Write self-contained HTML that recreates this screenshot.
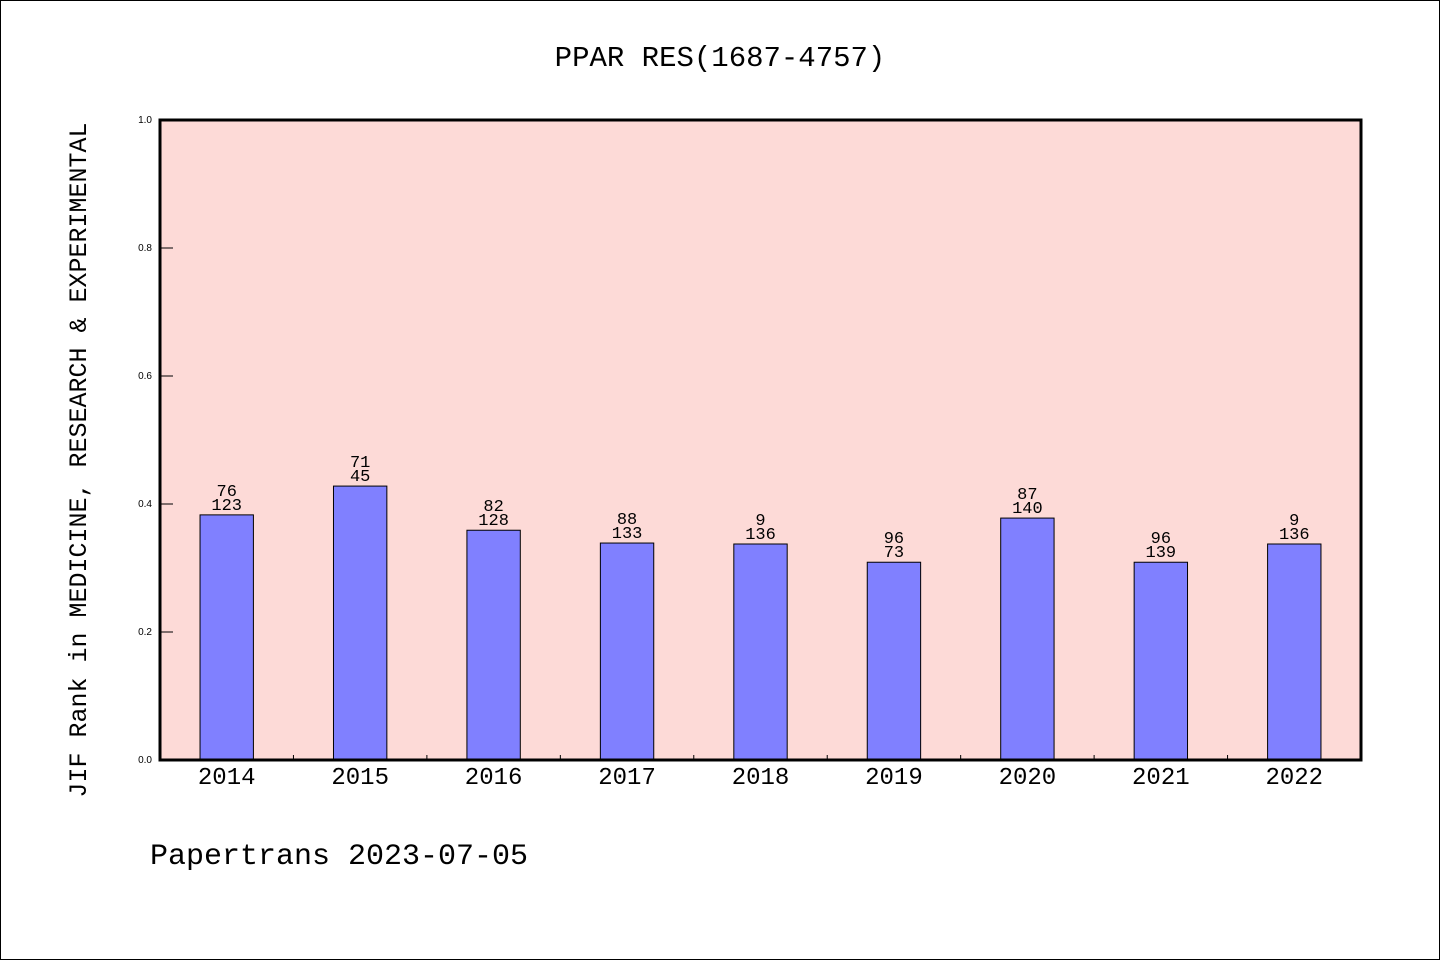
<!DOCTYPE html>
<html><head><meta charset="utf-8"><style>
html,body{margin:0;padding:0;background:#fff;}
svg{display:block;}
text{font-family:"Liberation Mono","DejaVu Sans Mono",monospace;fill:#000;}
text.sans{font-family:"Liberation Sans",sans-serif;}
</style></head><body>
<svg id="chart" width="1440" height="960" viewBox="0 0 1440 960" xmlns="http://www.w3.org/2000/svg">
<rect x="0.5" y="0.5" width="1439" height="959" fill="#fff" stroke="#000" stroke-width="1"/>
<text x="720" y="66" font-size="29" text-anchor="middle">PPAR RES(1687-4757)</text>
<rect x="160" y="120" width="1201" height="640" fill="#fddad7"/>
<g id="bars"></g>
<g id="yaxis"></g>
<g id="xaxis"></g>
<rect x="160" y="120" width="1201" height="640" fill="none" stroke="#000" stroke-width="3"/>
<text transform="translate(86,460) rotate(-90)" font-size="25" text-anchor="middle">JIF Rank in MEDICINE, RESEARCH &amp; EXPERIMENTAL</text>
<text x="150" y="864" font-size="30">Papertrans 2023-07-05</text>
</svg>
<script>
const categories=["2014","2015","2016","2017","2018","2019","2020","2021","2022"];
const values=[0.383,0.428,0.359,0.339,0.3375,0.309,0.378,0.309,0.3375];
const topLabels=["76","71","82","88","9","96","87","96","9"];
const bottomLabels=["123","45","128","133","136","73","140","139","136"];
const yTicks=["0.0","0.2","0.4","0.6","0.8","1.0"];
const NS="http://www.w3.org/2000/svg";
const X0=160,W=1201,Y0=760,H=640;
const band=W/categories.length;
const xC=i=>X0+(i+0.5)*band;
const yS=v=>Y0-v*H;
function mk(tag,attrs,parent){const e=document.createElementNS(NS,tag);for(const k in attrs)e.setAttribute(k,attrs[k]);parent.appendChild(e);return e;}
const bars=document.getElementById('bars'),ya=document.getElementById('yaxis'),xa=document.getElementById('xaxis');
categories.forEach((c,i)=>{
  const bw=band*0.4,y=yS(values[i]);
  const r=mk('rect',{x:xC(i)-bw/2,y:y,width:bw,height:Y0-y,fill:'#8080ff',stroke:'#000','stroke-width':1},bars);
  
  
  const t1=mk('text',{x:xC(i),y:y-19,'font-size':17,'text-anchor':'middle'},bars);t1.textContent=topLabels[i];
  
  
  const t2=mk('text',{x:xC(i),y:y-5,'font-size':17,'text-anchor':'middle'},bars);t2.textContent=bottomLabels[i];
  
  
  const xl=mk('text',{x:xC(i),y:784,'font-size':24,'text-anchor':'middle'},xa);xl.textContent=c;
  
  
  if(i>0){const tk=mk('line',{x1:X0+i*band,x2:X0+i*band,y1:Y0,y2:Y0-5,stroke:'#000','stroke-width':1},xa);
    
    }
});
yTicks.forEach(t=>{
  const v=parseFloat(t),y=yS(v);
  const l=mk('line',{x1:X0,x2:X0+13,y1:y,y2:y,stroke:'#000','stroke-width':1},ya);
  
  
  const tx=mk('text',{x:X0-8,y:y+3,'font-size':10,'text-anchor':'end','class':'sans'},ya);tx.textContent=t;
  
  
});
</script>
</body></html>
